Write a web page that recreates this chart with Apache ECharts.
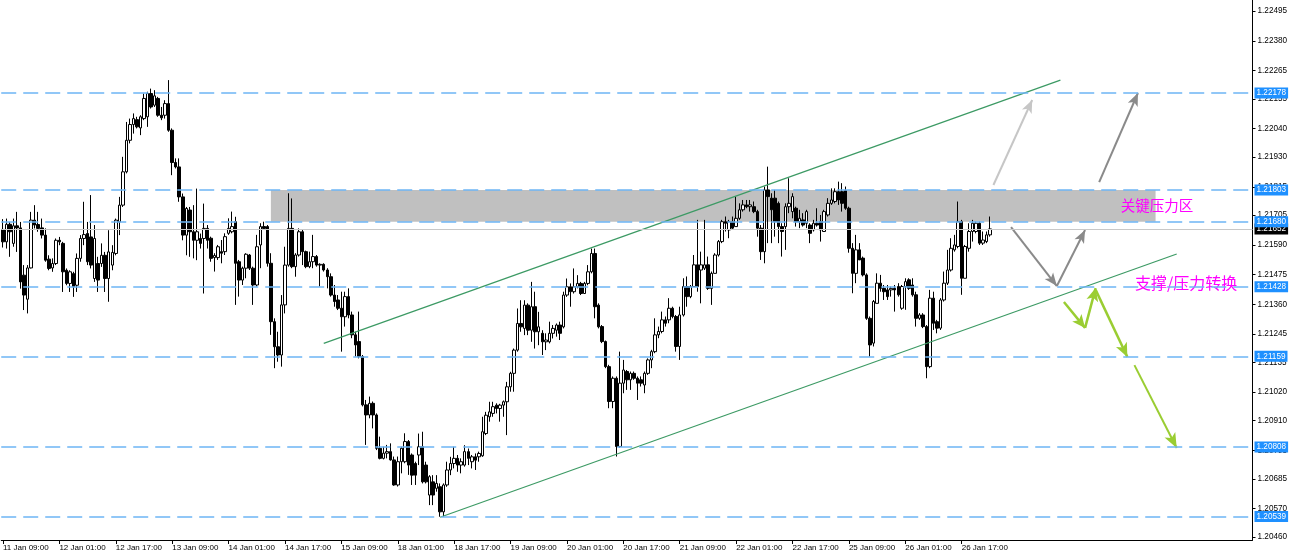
<!DOCTYPE html>
<html>
<head>
<meta charset="utf-8">
<script src="https://cdn.jsdelivr.net/npm/echarts@6/dist/echarts.min.js"></script>
<style>html,body{margin:0;padding:0;background:#fff}#chart{width:1297px;height:554px}</style>
</head>
<body>
<div id="chart"></div>
<script>
// ---- data (EURUSD H1) ----
const tickLabels = ['11 Jan 09:00','12 Jan 01:00','12 Jan 17:00','13 Jan 09:00','14 Jan 01:00','14 Jan 17:00','15 Jan 09:00','18 Jan 01:00','18 Jan 17:00','19 Jan 09:00','20 Jan 01:00','20 Jan 17:00','21 Jan 09:00','22 Jan 01:00','22 Jan 17:00','25 Jan 09:00','26 Jan 01:00','26 Jan 17:00'];
const yTicks = [1.22495,1.22380,1.22265,1.22155,1.22040,1.21930,1.21815,1.21705,1.21590,1.21475,1.21360,1.21245,1.21135,1.21020,1.20910,1.20795,1.20685,1.20570,1.20460];
const levels = [1.22178,1.21803,1.21680,1.21428,1.21159,1.20808,1.20539];
const bidPrice = 1.21652;
const zone = [[76,1.21680],[327,1.21803]];
const channelUpper = [[91,1.21209],[300,1.22228]];
const channelLower = [[124,1.20536],[333,1.21555]];
const grayLightArrow = [[281,1.21822],[292,1.22151]];
const grayDarkArrow = [[311,1.21833],[322,1.22178]];
const grayPath = [[286,1.21659],[299,1.21431],[307,1.21648]];
const greenPath1 = [[301,1.21369],[307,1.21269],[310,1.21423]];
const greenArrow2 = [[310,1.21416],[319,1.21156]];
const greenArrow3 = [[321,1.21125],[333,1.20804]];
const notes = [{at:[317,1.21742],text:'关键压力区'},{at:[321,1.21443],text:'支撑/压力转换'}];

const opens = [1.21650,1.21602,1.21670,1.21596,1.21664,1.21656,1.21473,1.21380,1.21501,1.21686,
1.21669,1.21656,1.21628,1.21535,1.21501,1.21518,1.21608,1.21596,1.21492,1.21441,
1.21479,1.21434,1.21538,1.21615,1.21634,1.21621,1.21460,1.21518,1.21518,1.21550,
1.21460,1.21512,1.21557,1.21679,1.21744,1.21873,1.21995,1.22056,1.22075,1.22043,
1.22079,1.22086,1.22176,1.22131,1.22157,1.22092,1.22092,1.22137,1.22034,1.21909,
1.21892,1.21776,1.21628,1.21725,1.21641,1.21608,1.21615,1.21615,1.21654,1.21616,
1.21541,1.21541,1.21564,1.21564,1.21635,1.21641,1.21680,1.21525,1.21454,1.21500,
1.21551,1.21500,1.21435,1.21590,1.21661,1.21661,1.21519,1.21293,1.21196,1.21164,
1.21358,1.21512,1.21654,1.21506,1.21551,1.21641,1.21564,1.21506,1.21525,1.21545,
1.21512,1.21515,1.21493,1.21467,1.21396,1.21377,1.21345,1.21312,1.21390,1.21319,
1.21242,1.21216,1.21158,1.20971,1.20932,1.20977,1.20932,1.20803,1.20764,1.20784,
1.20790,1.20758,1.20661,1.20751,1.20751,1.20829,1.20777,1.20744,1.20777,1.20809,
1.20738,1.20622,1.20673,1.20648,1.20654,1.20557,1.20661,1.20719,1.20744,1.20764,
1.20738,1.20738,1.20790,1.20751,1.20770,1.20770,1.20774,1.20860,1.20925,1.20938,
1.20970,1.20957,1.20970,1.20983,1.21041,1.21093,1.21183,1.21286,1.21267,1.21357,
1.21260,1.21351,1.21254,1.21248,1.21215,1.21215,1.21248,1.21260,1.21280,1.21273,
1.21396,1.21428,1.21409,1.21428,1.21441,1.21402,1.21441,1.21486,1.21557,1.21357,
1.21274,1.21216,1.21119,1.20984,1.21074,1.20810,1.21055,1.21100,1.21068,1.21093,
1.21074,1.21068,1.21048,1.21093,1.21145,1.21177,1.21242,1.21255,1.21300,1.21300,
1.21345,1.21313,1.21197,1.21319,1.21429,1.21390,1.21429,1.21513,1.21493,1.21500,
1.21513,1.21422,1.21480,1.21551,1.21603,1.21680,1.21648,1.21680,1.21661,1.21693,
1.21726,1.21745,1.21738,1.21738,1.21719,1.21655,1.21564,1.21803,1.21771,1.21771,
1.21751,1.21661,1.21661,1.21738,1.21719,1.21732,1.21680,1.21687,1.21674,1.21667,
1.21648,1.21674,1.21680,1.21642,1.21706,1.21751,1.21758,1.21796,1.21796,1.21800,
1.21732,1.21577,1.21480,1.21571,1.21539,1.21474,1.21306,1.21210,1.21364,1.21442,
1.21422,1.21416,1.21416,1.21422,1.21429,1.21345,1.21429,1.21455,1.21435,1.21397,
1.21306,1.21319,1.21274,1.21119,1.21384,1.21293,1.21268,1.21377,1.21442,1.21493,
1.21571,1.21584,1.21680,1.21461,1.21577,1.21642,1.21642,1.21674,1.21597,1.21603,
1.21629];
const closes = [1.21602,1.21670,1.21641,1.21664,1.21656,1.21447,1.21396,1.21501,1.21686,1.21667,
1.21654,1.21628,1.21531,1.21499,1.21518,1.21608,1.21602,1.21486,1.21441,1.21486,
1.21428,1.21538,1.21615,1.21630,1.21525,1.21512,1.21615,1.21454,1.21550,1.21460,
1.21563,1.21561,1.21686,1.21744,1.21873,1.21995,1.22056,1.22079,1.22047,1.22086,
1.22157,1.22176,1.22124,1.22167,1.22092,1.22082,1.22137,1.22034,1.21909,1.21892,
1.21776,1.21628,1.21731,1.21641,1.21608,1.21641,1.21596,1.21654,1.21608,1.21538,
1.21549,1.21583,1.21558,1.21622,1.21654,1.21661,1.21519,1.21454,1.21500,1.21554,
1.21500,1.21435,1.21583,1.21661,1.21654,1.21519,1.21293,1.21196,1.21164,1.21358,
1.21512,1.21654,1.21506,1.21551,1.21641,1.21564,1.21506,1.21525,1.21545,1.21512,
1.21515,1.21493,1.21467,1.21396,1.21371,1.21345,1.21312,1.21390,1.21319,1.21242,
1.21203,1.21158,1.20971,1.20932,1.20977,1.20932,1.20803,1.20764,1.20784,1.20790,
1.20758,1.20661,1.20751,1.20803,1.20829,1.20738,1.20699,1.20699,1.20809,1.20673,
1.20673,1.20693,1.20622,1.20667,1.20557,1.20661,1.20719,1.20744,1.20764,1.20738,
1.20751,1.20790,1.20764,1.20770,1.20757,1.20783,1.20867,1.20931,1.20944,1.20964,
1.20957,1.20970,1.20983,1.21041,1.21093,1.21183,1.21286,1.21273,1.21357,1.21260,
1.21351,1.21254,1.21273,1.21215,1.21222,1.21248,1.21267,1.21280,1.21248,1.21396,
1.21428,1.21409,1.21428,1.21441,1.21402,1.21441,1.21486,1.21557,1.21351,1.21273,
1.21216,1.21119,1.20984,1.21074,1.20810,1.21055,1.21106,1.21068,1.21093,1.21074,
1.21055,1.21055,1.21093,1.21145,1.21177,1.21242,1.21255,1.21300,1.21287,1.21345,
1.21313,1.21197,1.21319,1.21429,1.21390,1.21429,1.21513,1.21429,1.21513,1.21513,
1.21422,1.21480,1.21551,1.21603,1.21680,1.21674,1.21680,1.21655,1.21693,1.21726,
1.21745,1.21738,1.21745,1.21719,1.21655,1.21564,1.21803,1.21777,1.21726,1.21680,
1.21661,1.21642,1.21738,1.21751,1.21777,1.21680,1.21693,1.21667,1.21719,1.21635,
1.21674,1.21667,1.21648,1.21719,1.21751,1.21764,1.21796,1.21764,1.21751,1.21732,
1.21577,1.21480,1.21571,1.21532,1.21474,1.21306,1.21203,1.21371,1.21442,1.21422,
1.21409,1.21390,1.21422,1.21416,1.21397,1.21429,1.21448,1.21422,1.21397,1.21306,
1.21319,1.21274,1.21119,1.21384,1.21287,1.21268,1.21377,1.21442,1.21493,1.21577,
1.21590,1.21680,1.21461,1.21584,1.21642,1.21674,1.21674,1.21597,1.21609,1.21629,
1.21652];
const lows = [1.21580,1.21576,1.21544,1.21583,1.21563,1.21421,1.21338,1.21325,1.21499,1.21654,
1.21641,1.21615,1.21525,1.21492,1.21486,1.21512,1.21589,1.21408,1.21434,1.21408,
1.21389,1.21408,1.21525,1.21589,1.21512,1.21499,1.21447,1.21408,1.21505,1.21408,
1.21370,1.21492,1.21550,1.21628,1.21737,1.21867,1.21983,1.22021,1.22041,1.22015,
1.22073,1.22047,1.22118,1.22124,1.22086,1.22073,1.22079,1.22028,1.21860,1.21886,
1.21757,1.21608,1.21550,1.21544,1.21538,1.21531,1.21576,1.21402,1.21576,1.21525,
1.21487,1.21532,1.21519,1.21551,1.21629,1.21635,1.21358,1.21390,1.21435,1.21461,
1.21493,1.21358,1.21429,1.21500,1.21648,1.21506,1.21242,1.21113,1.21138,1.21119,
1.21325,1.21506,1.21500,1.21467,1.21545,1.21512,1.21500,1.21500,1.21500,1.21506,
1.21429,1.21487,1.21422,1.21390,1.21351,1.21338,1.21177,1.21274,1.21306,1.21229,
1.21158,1.21151,1.20965,1.20816,1.20919,1.20880,1.20796,1.20760,1.20760,1.20764,
1.20755,1.20658,1.20655,1.20706,1.20745,1.20700,1.20661,1.20661,1.20738,1.20667,
1.20667,1.20583,1.20583,1.20635,1.20538,1.20538,1.20654,1.20699,1.20725,1.20712,
1.20706,1.20732,1.20738,1.20725,1.20719,1.20751,1.20770,1.20854,1.20906,1.20925,
1.20938,1.20906,1.20925,1.20854,1.21022,1.21022,1.21177,1.21254,1.21241,1.21241,
1.21215,1.21189,1.21202,1.21164,1.21183,1.21209,1.21228,1.21235,1.21222,1.21267,
1.21389,1.21351,1.21402,1.21422,1.21396,1.21400,1.21434,1.21480,1.21306,1.21267,
1.21210,1.21113,1.20958,1.20958,1.20771,1.20805,1.21016,1.21029,1.21029,1.21068,
1.20990,1.21042,1.21016,1.21087,1.21113,1.21171,1.21229,1.21248,1.21274,1.21287,
1.21306,1.21177,1.21145,1.21313,1.21351,1.21384,1.21429,1.21409,1.21364,1.21493,
1.21416,1.21358,1.21480,1.21545,1.21597,1.21642,1.21616,1.21648,1.21661,1.21687,
1.21719,1.21732,1.21719,1.21713,1.21622,1.21532,1.21519,1.21597,1.21597,1.21622,
1.21597,1.21545,1.21571,1.21713,1.21693,1.21661,1.21655,1.21661,1.21655,1.21597,
1.21642,1.21661,1.21603,1.21642,1.21700,1.21745,1.21751,1.21745,1.21719,1.21726,
1.21560,1.21403,1.21442,1.21532,1.21468,1.21300,1.21158,1.21197,1.21364,1.21409,
1.21377,1.21377,1.21390,1.21332,1.21390,1.21339,1.21339,1.21416,1.21390,1.21274,
1.21300,1.21268,1.21074,1.21113,1.21261,1.21248,1.21261,1.21371,1.21435,1.21487,
1.21564,1.21577,1.21397,1.21461,1.21564,1.21603,1.21635,1.21590,1.21590,1.21597,
1.21622];
const highs = [1.21690,1.21692,1.21679,1.21692,1.21718,1.21679,1.21512,1.21512,1.21718,1.21744,
1.21718,1.21692,1.21654,1.21550,1.21538,1.21615,1.21621,1.21602,1.21499,1.21492,
1.21486,1.21557,1.21628,1.21757,1.21679,1.21783,1.21667,1.21544,1.21596,1.21563,
1.21647,1.21589,1.21692,1.21776,1.21931,1.22066,1.22079,1.22099,1.22086,1.22092,
1.22176,1.22183,1.22195,1.22189,1.22163,1.22124,1.22150,1.22228,1.22041,1.21925,
1.21925,1.21789,1.21737,1.21737,1.21744,1.21808,1.21634,1.21750,1.21667,1.21622,
1.21558,1.21590,1.21609,1.21635,1.21693,1.21719,1.21699,1.21532,1.21506,1.21558,
1.21555,1.21506,1.21629,1.21674,1.21680,1.21667,1.21558,1.21306,1.21254,1.21396,
1.21583,1.21790,1.21770,1.21558,1.21654,1.21648,1.21568,1.21564,1.21629,1.21551,
1.21519,1.21519,1.21500,1.21480,1.21435,1.21396,1.21409,1.21409,1.21422,1.21332,
1.21254,1.21332,1.21164,1.20990,1.21003,1.20984,1.20938,1.20848,1.20809,1.20816,
1.20822,1.20771,1.20771,1.20809,1.20861,1.20835,1.20783,1.20751,1.20860,1.20867,
1.20751,1.20699,1.20699,1.20699,1.20667,1.20667,1.20751,1.20770,1.20809,1.20777,
1.20764,1.20815,1.20802,1.20777,1.20783,1.20790,1.20925,1.20944,1.20983,1.20983,
1.20977,1.20975,1.20988,1.21060,1.21099,1.21189,1.21344,1.21376,1.21376,1.21364,
1.21447,1.21409,1.21331,1.21260,1.21248,1.21293,1.21280,1.21286,1.21293,1.21409,
1.21460,1.21441,1.21499,1.21473,1.21447,1.21447,1.21512,1.21576,1.21576,1.21364,
1.21280,1.21220,1.21126,1.21081,1.21081,1.21177,1.21145,1.21106,1.21100,1.21100,
1.21081,1.21081,1.21100,1.21151,1.21184,1.21306,1.21274,1.21332,1.21313,1.21384,
1.21351,1.21319,1.21351,1.21461,1.21468,1.21435,1.21551,1.21687,1.21564,1.21687,
1.21545,1.21487,1.21558,1.21609,1.21687,1.21700,1.21687,1.21700,1.21777,1.21751,
1.21764,1.21764,1.21764,1.21758,1.21726,1.21667,1.21816,1.21893,1.21790,1.21803,
1.21758,1.21674,1.21751,1.21848,1.21790,1.21738,1.21726,1.21713,1.21726,1.21674,
1.21687,1.21732,1.21706,1.21726,1.21771,1.21809,1.21809,1.21835,1.21829,1.21816,
1.21738,1.21597,1.21629,1.21597,1.21545,1.21480,1.21313,1.21377,1.21480,1.21474,
1.21435,1.21435,1.21429,1.21435,1.21442,1.21435,1.21461,1.21461,1.21461,1.21409,
1.21326,1.21326,1.21280,1.21416,1.21409,1.21300,1.21384,1.21487,1.21571,1.21616,
1.21629,1.21758,1.21687,1.21590,1.21674,1.21687,1.21680,1.21680,1.21642,1.21642,
1.21700];

// ---- chart ----
const N_CATS = 355;
const categories = Array.from({length: N_CATS}, (_, i) => String(i));
const candles = opens.map((o, i) => [o, closes[i], lows[i], highs[i]]);
const FONT = 'Liberation Sans';
const Y_MIN = 1.20448, Y_MAX = 1.22538;
const isTick = (i) => i % 16 === 0 && i / 16 < tickLabels.length;

function seg(a, b, color, width, arrow, size) {
  return [
    {coord: a, symbol: 'none', lineStyle: {color: color, width: width, type: 'solid'}},
    {coord: b, symbol: arrow ? 'arrow' : 'none', symbolSize: size || [8, 12], itemStyle: {color: color}}
  ];
}
function pathSegs(pts, color, width, size) {
  const out = [];
  for (let k = 0; k < pts.length - 1; k++) out.push(seg(pts[k], pts[k + 1], color, width, true, size));
  return out;
}
// a price-level axis: split lines at the given values plus boxed labels
function levelAxis(values, color, width, dash, bg, z) {
  return {
    type: 'value', position: 'right', min: Y_MIN, max: Y_MAX, z: z,
    axisLine: {show: false},
    axisTick: {show: false, customValues: values},
    axisLabel: {show: true, customValues: values, formatter: (v) => v.toFixed(5), margin: 2,
                color: '#fff', backgroundColor: bg, padding: [1, 2, 1, 2], fontSize: 8.2,
                fontFamily: FONT, lineHeight: 9},
    splitLine: {show: true, lineStyle: {color: color, width: width, type: dash}}
  };
}

const option = {
  animation: false,
  backgroundColor: '#ffffff',
  grid: {left: -4.47, right: 44.5, top: 0, bottom: 14, containLabel: false},
  xAxis: {
    type: 'category', data: categories, boundaryGap: true,
    axisLine: {show: true, lineStyle: {color: '#000', width: 1}},
    axisTick: {show: true, alignWithLabel: true, length: 4, interval: (i) => isTick(i), lineStyle: {color: '#000'}},
    axisLabel: {show: true, interval: (i) => isTick(i), formatter: (v, i) => tickLabels[i / 16],
                align: 'left', margin: 4, fontSize: 8, fontFamily: FONT, color: '#000'},
    splitLine: {show: false}
  },
  yAxis: [
    {
      type: 'value', position: 'right', min: Y_MIN, max: Y_MAX, z: 0,
      axisLine: {show: true, lineStyle: {color: '#000', width: 1}},
      axisTick: {show: true, length: 3, customValues: yTicks, lineStyle: {color: '#000'}},
      axisLabel: {show: true, customValues: yTicks, formatter: (v) => v.toFixed(5), margin: 5,
                  fontSize: 8.2, fontFamily: FONT, color: '#000'},
      splitLine: {show: false}
    },
    levelAxis([bidPrice], '#c8c8c8', 1, 'solid', '#000000', 8),
    levelAxis(levels, '#6db5f5', 1.6, [15, 7], '#1e90ff', 9)
  ],
  series: [
    {
      type: 'line', data: [], z: 1, silent: true,
      markArea: {silent: true, itemStyle: {color: '#c0c0c0', opacity: 1},
                 data: [[{coord: zone[0]}, {coord: zone[1]}]]}
    },
    {
      type: 'candlestick', data: candles, z: 3, silent: true, barWidth: 3,
      itemStyle: {color: '#ffffff', color0: '#000000', borderColor: '#000000', borderColor0: '#000000', borderWidth: 1}
    },
    {
      type: 'line', data: [], z: 6, silent: true,
      markLine: {
        silent: true, animation: false, symbol: ['none', 'none'], label: {show: false},
        emphasis: {disabled: true},
        data: [].concat(
          [seg(channelUpper[0], channelUpper[1], '#3c9a64', 1.2, false)],
          [seg(channelLower[0], channelLower[1], '#3c9a64', 1.2, false)],
          [seg(grayLightArrow[0], grayLightArrow[1], '#c6c6c6', 2, true, [8, 13])],
          [seg(grayDarkArrow[0], grayDarkArrow[1], '#8a8a8a', 2, true, [8, 13])],
          pathSegs(grayPath, '#8a8a8a', 2, [8, 13]),
          pathSegs(greenPath1, '#9acd32', 2.5, [9, 13]),
          [seg(greenArrow2[0], greenArrow2[1], '#9acd32', 2.5, true, [9, 14])],
          [seg(greenArrow3[0], greenArrow3[1], '#9acd32', 2, true, [9, 15])]
        )
      },
      markPoint: {
        silent: true, symbol: 'circle', symbolSize: 1, itemStyle: {color: 'rgba(0,0,0,0)'},
        data: notes.map((n, k) => ({
          coord: n.at,
          label: {show: true, position: 'right', distance: 0, formatter: n.text, color: '#ff00ff',
                  fontSize: k === 0 ? 14.5 : 16, fontFamily: 'Noto Sans CJK SC'}
        }))
      }
    }
  ]
};

const chart = echarts.init(document.getElementById('chart'), null, {renderer: 'canvas'});
chart.setOption(option);
</script>
</body>
</html>
